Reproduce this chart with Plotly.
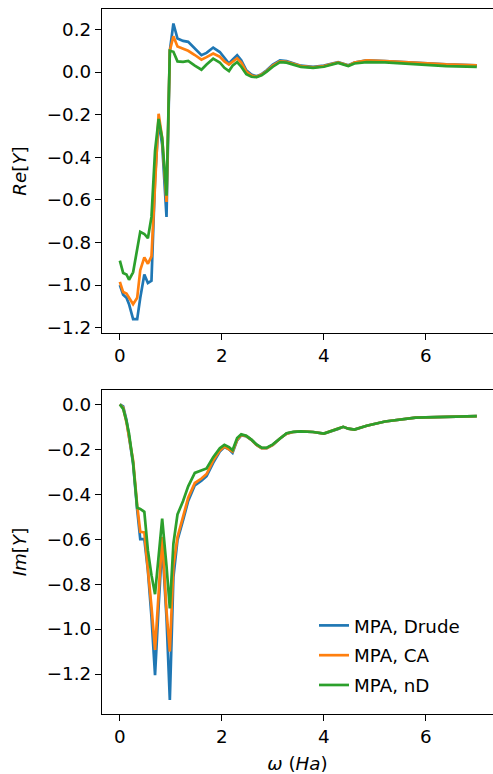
import plotly.graph_objects as go

omega = [0, 0.065, 0.13, 0.18, 0.26, 0.34, 0.40, 0.48, 0.55, 0.62, 0.69, 0.76, 0.83, 0.915, 0.98,
         1.05, 1.13, 1.24, 1.34, 1.47, 1.60, 1.70, 1.83, 1.96, 2.05, 2.14, 2.21, 2.30, 2.38, 2.48,
         2.58, 2.68, 2.78, 2.88, 3.0, 3.14, 3.27, 3.40, 3.55, 3.79, 4.0, 4.28, 4.38, 4.48, 4.6,
         4.84, 5.2, 5.8, 6.4, 7.0]

re_drude = [-1.00, -1.045, -1.06, -1.09, -1.16, -1.16, -1.06, -0.95, -0.99, -0.98, -0.50, -0.23, -0.34, -0.68, 0.10,
            0.228, 0.157, 0.146, 0.142, 0.11, 0.079, 0.09, 0.115, 0.094, 0.065, 0.04, 0.058, 0.079, 0.055, 0.008,
            -0.012, -0.02, -0.01, 0.008, 0.035, 0.055, 0.052, 0.043, 0.03, 0.024, 0.03, 0.047, 0.04, 0.032, 0.045,
            0.055, 0.052, 0.043, 0.036, 0.032]
re_ca = [-0.985, -1.033, -1.04, -1.06, -1.09, -1.06, -0.93, -0.87, -0.90, -0.865, -0.50, -0.196, -0.31, -0.61, 0.10,
         0.168, 0.12, 0.11, 0.10, 0.08, 0.058, 0.07, 0.087, 0.072, 0.05, 0.035, 0.05, 0.065, 0.045, 0.002,
         -0.016, -0.022, -0.012, 0.005, 0.03, 0.05, 0.048, 0.04, 0.028, 0.022, 0.028, 0.045, 0.038, 0.03, 0.045,
         0.055, 0.052, 0.043, 0.036, 0.032]
re_nd = [-0.885, -0.943, -0.95, -0.975, -0.94, -0.84, -0.75, -0.76, -0.78, -0.68, -0.37, -0.22, -0.31, -0.58, 0.10,
         0.095, 0.05, 0.048, 0.052, 0.03, 0.011, 0.035, 0.063, 0.045, 0.02, 0.005, 0.03, 0.047, 0.025, -0.01,
         -0.022, -0.024, -0.015, 0.002, 0.025, 0.047, 0.044, 0.035, 0.024, 0.02, 0.025, 0.043, 0.035, 0.028, 0.04,
         0.047, 0.045, 0.036, 0.028, 0.024]

im_drude = [0, -0.009, -0.07, -0.145, -0.264, -0.47, -0.60, -0.60, -0.74, -0.945, -1.205, -0.90, -0.62, -0.95, -1.315,
            -0.77, -0.604, -0.515, -0.43, -0.36, -0.34, -0.32, -0.26, -0.21, -0.19, -0.20, -0.216, -0.16, -0.138, -0.142,
            -0.158, -0.18, -0.195, -0.195, -0.18, -0.152, -0.13, -0.123, -0.12, -0.123, -0.13, -0.11, -0.10, -0.108, -0.112,
            -0.095, -0.076, -0.059, -0.055, -0.052]
im_ca = [0, -0.015, -0.08, -0.14, -0.25, -0.45, -0.567, -0.57, -0.72, -0.90, -1.093, -0.82, -0.59, -0.92, -1.10,
         -0.72, -0.59, -0.50, -0.415, -0.35, -0.33, -0.31, -0.25, -0.205, -0.187, -0.20, -0.21, -0.157, -0.136, -0.141,
         -0.158, -0.18, -0.195, -0.195, -0.18, -0.152, -0.13, -0.123, -0.12, -0.123, -0.13, -0.108, -0.10, -0.108, -0.112,
         -0.095, -0.076, -0.059, -0.055, -0.052]
im_nd = [0, -0.02, -0.075, -0.13, -0.26, -0.46, -0.465, -0.478, -0.65, -0.76, -0.845, -0.68, -0.508, -0.72, -0.908,
         -0.62, -0.49, -0.43, -0.365, -0.305, -0.295, -0.285, -0.235, -0.195, -0.18, -0.19, -0.204, -0.15, -0.133, -0.14,
         -0.157, -0.178, -0.193, -0.193, -0.178, -0.15, -0.128, -0.122, -0.12, -0.123, -0.13, -0.108, -0.10, -0.108, -0.112,
         -0.095, -0.076, -0.059, -0.055, -0.052]

names = ["MPA, Drude", "MPA, CA", "MPA, nD"]
colors = ["#1f77b4", "#ff7f0e", "#2ca02c"]

FONT = "DejaVu Sans"
FS = 18.3
LW = 2.7

fig = go.Figure()
series = [(re_drude, im_drude), (re_ca, im_ca), (re_nd, im_nd)]
for i, (re, im) in enumerate(series):
    fig.add_trace(go.Scatter(x=omega, y=re, mode="lines", name=names[i],
                             line=dict(color=colors[i], width=LW), showlegend=False,
                             xaxis="x", yaxis="y"))
for i, (re, im) in enumerate(series):
    fig.add_trace(go.Scatter(x=omega, y=im, mode="lines", name=names[i],
                             line=dict(color=colors[i], width=LW), legendgroup=str(i),
                             xaxis="x2", yaxis="y2"))

axis_common = dict(showgrid=False, zeroline=False, showline=True, linecolor="black", linewidth=1.4,
                   ticks="outside", ticklen=6, tickwidth=1.4, tickcolor="black",
                   tickfont=dict(family=FONT, size=FS, color="black"))

H_TOP, H_BOT = 9, 714
total = H_BOT - H_TOP
top_dom = [(H_BOT - 333) / total, 1]
bot_dom = [0, (H_BOT - 390) / total]

xr = [-0.35, 7.317]

fig.update_layout(
    width=493, height=774,
    margin=dict(l=102, r=0, t=H_TOP, b=774 - H_BOT),
    paper_bgcolor="white", plot_bgcolor="white",
    font=dict(family=FONT, size=FS, color="black"),
    xaxis=dict(axis_common, domain=[0, 1], anchor="y", range=xr, tick0=0, dtick=2, mirror=True),
    yaxis=dict(axis_common, domain=top_dom, anchor="x", range=[-1.225, 0.296], tick0=0, dtick=0.2,
               tickformat=".1f", title=dict(text="<i>Re</i>[<i>Y</i>]", standoff=15,
                                             font=dict(family=FONT, size=FS))),
    xaxis2=dict(axis_common, domain=[0, 1], anchor="y2", range=xr, tick0=0, dtick=2, mirror=True,
                title=dict(text="<i>ω</i> (<i>Ha</i>)", standoff=11, font=dict(family=FONT, size=FS))),
    yaxis2=dict(axis_common, domain=bot_dom, anchor="x2", range=[-1.378, 0.064], tick0=0, dtick=0.2,
                tickformat=".1f", title=dict(text="<i>Im</i>[<i>Y</i>]", standoff=15,
                                              font=dict(family=FONT, size=FS))),
    legend=dict(x=(314 - 102) / 391, xanchor="left", y=(H_BOT - 607) / total, yanchor="top",
                bgcolor="rgba(255,255,255,0)", font=dict(family=FONT, size=FS),
                tracegroupgap=3),
)

fig.write_html("out.html")
